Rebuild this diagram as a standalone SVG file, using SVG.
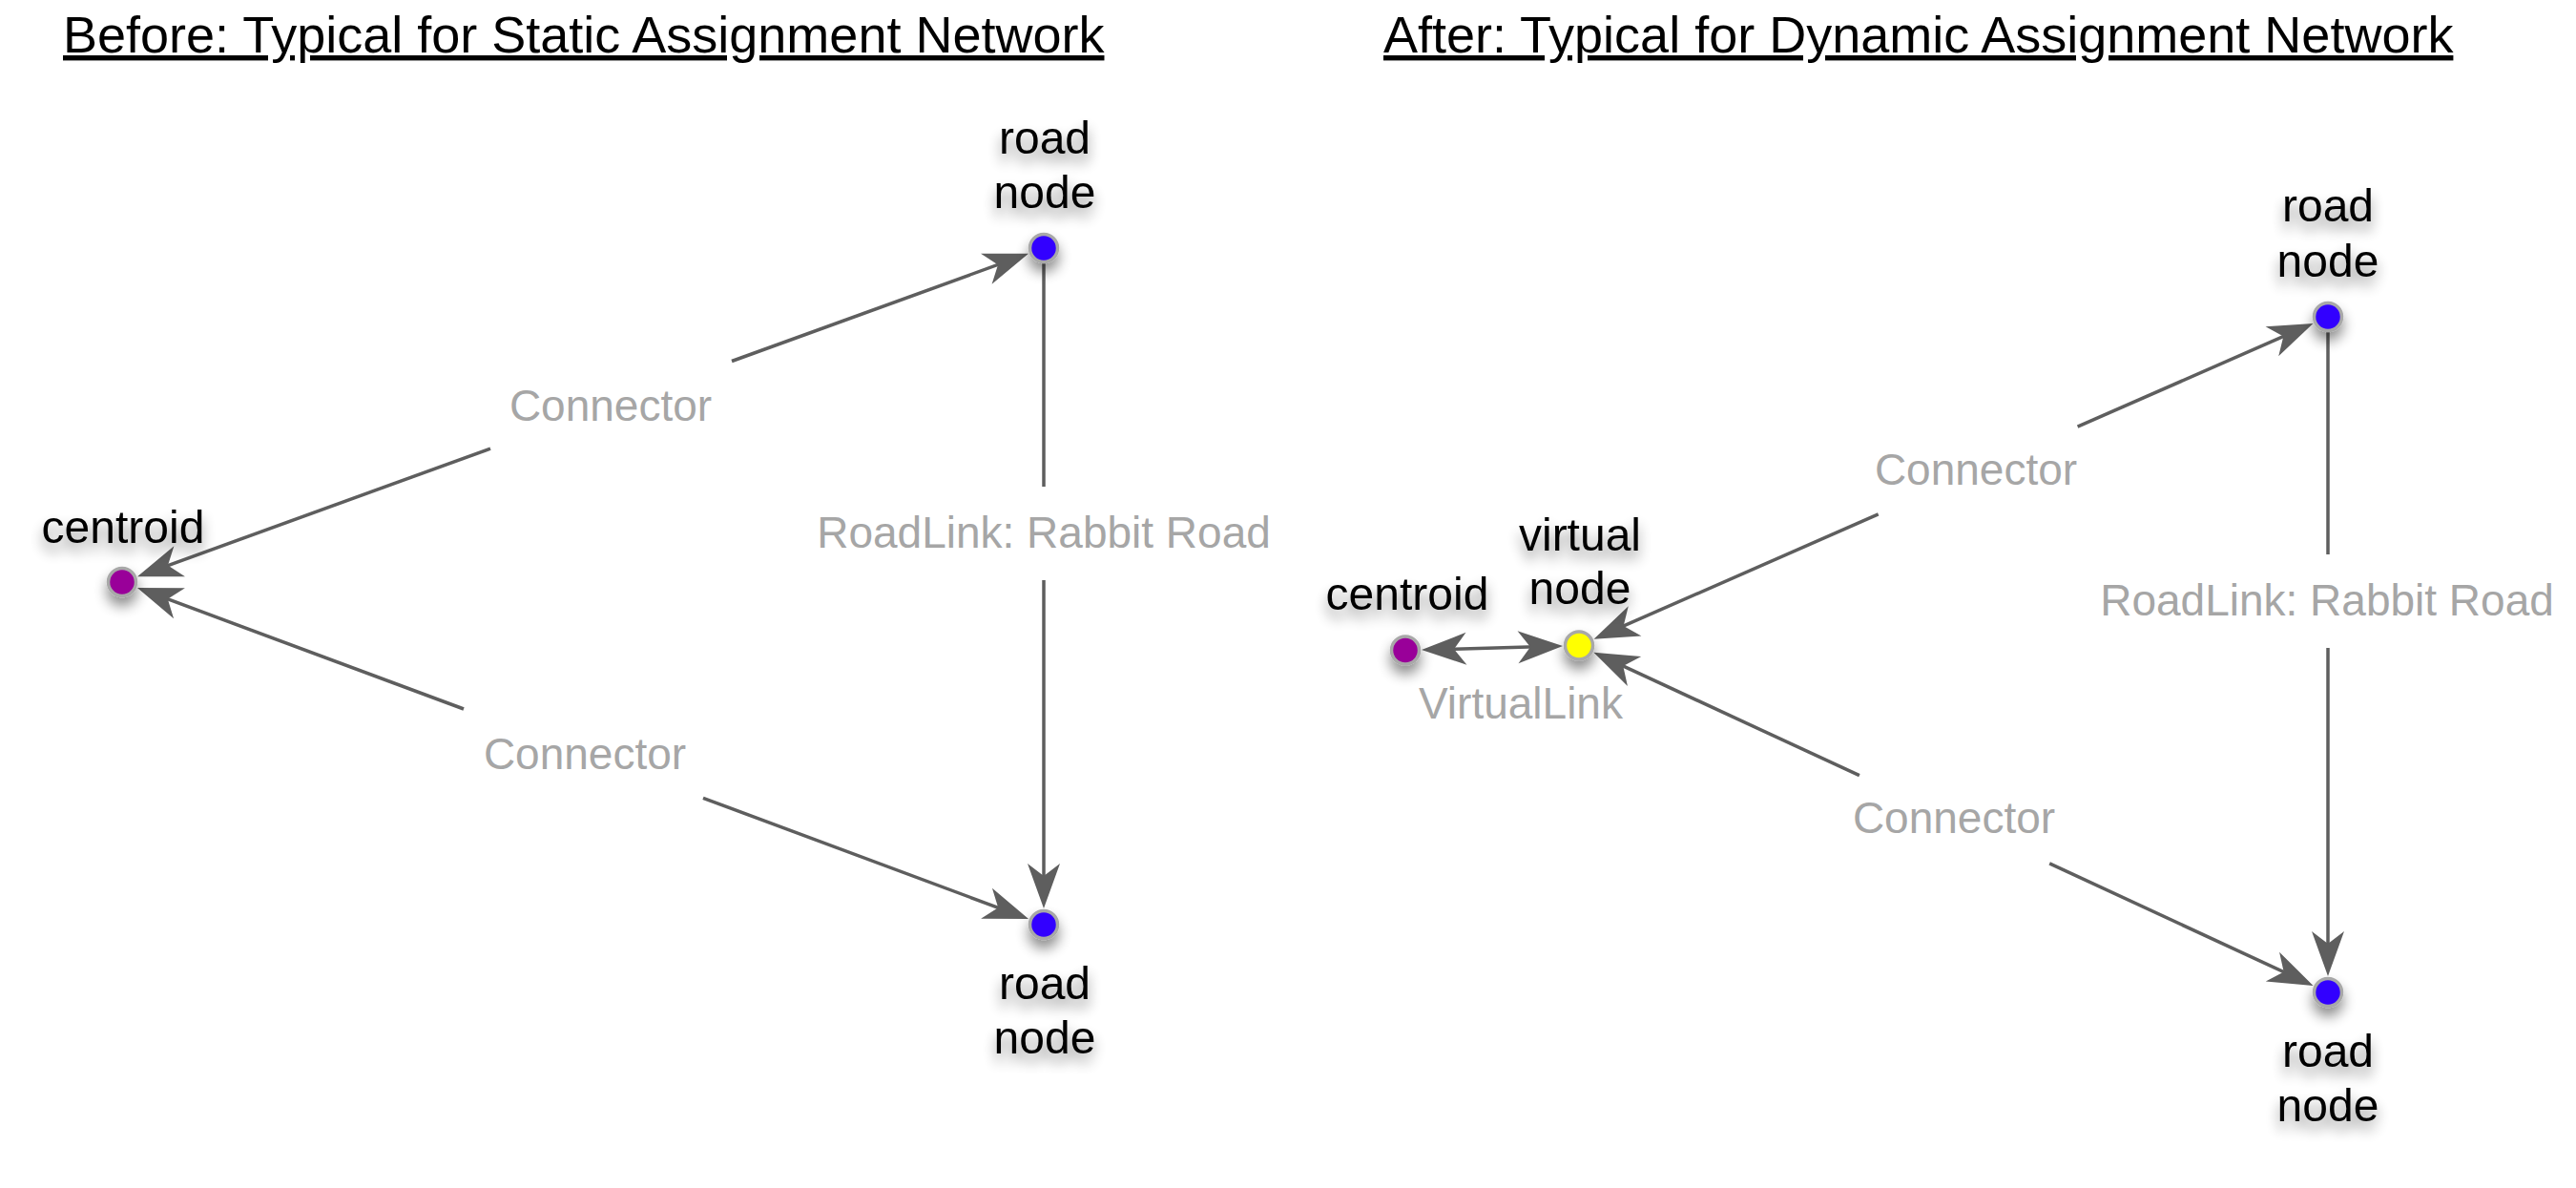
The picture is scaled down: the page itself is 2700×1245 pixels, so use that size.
<svg xmlns="http://www.w3.org/2000/svg" width="2700" height="1245" viewBox="0 0 2700 1245">
  <style>
    .title { font-family: "Liberation Sans", Arial, sans-serif; font-size: 54px; fill: #000; text-decoration: underline; }
    .nlabel { font-family: "Liberation Sans", Arial, sans-serif; font-size: 48px; fill: #000; text-anchor: middle; }
    .elabel { font-family: "Liberation Sans", Arial, sans-serif; font-size: 46px; fill: #a6a6a6; text-anchor: middle; }
    .edge { stroke: #5e5e5e; stroke-width: 3.5; fill: none; }
    .arr { marker-end: url(#ah); }
    .arrs { marker-start: url(#ah); }
    .node { stroke: #a8a8a8; stroke-width: 3.5; }
    .road { fill: #3300ff; }
    .centroid { fill: #990099; }
    .virtual { fill: #ffff00; }
  </style>
  <defs>
    <filter id="sh" x="-60%" y="-60%" width="220%" height="220%">
      <feGaussianBlur in="SourceAlpha" stdDeviation="7"/>
      <feOffset dy="9" result="b"/>
      <feComponentTransfer in="b" result="c"><feFuncA type="linear" slope="0.45"/></feComponentTransfer>
      <feMerge><feMergeNode in="c"/><feMergeNode in="SourceGraphic"/></feMerge>
    </filter>
    <marker id="ah" markerUnits="userSpaceOnUse" markerWidth="60" markerHeight="40" viewBox="-52 -20 60 40" refX="-10" refY="0" orient="auto-start-reverse">
      <path d="M0,0 L-47,-17 L-34,0 L-47,17 Z" fill="#5e5e5e"/>
    </marker>
  </defs>
  <rect width="2700" height="1245" fill="#fff"/>

  <text class="title" x="66" y="55">Before: Typical for Static Assignment Network</text>
  <text class="title" x="1450" y="55">After: Typical for Dynamic Assignment Network</text>

  <g id="connectors">
    <!-- left: top connector -->
    <line class="edge arrs" x1="153.4" y1="600.8" x2="514" y2="470.1"/>
    <line class="edge arr" x1="767" y1="378.5" x2="1068.6" y2="269.2"/>
    <!-- left: bottom connector -->
    <line class="edge arrs" x1="153.3" y1="619.4" x2="486" y2="743.0"/>
    <line class="edge arr" x1="737" y1="836.3" x2="1068.7" y2="959.6"/>
    <!-- left: road link -->
    <line class="edge" x1="1094" y1="274" x2="1094" y2="510"/>
    <line class="edge arr" x1="1094" y1="608" x2="1094" y2="942"/>
    <!-- right: virtual link -->
    <line class="edge arrs arr" x1="1500" y1="680.8" x2="1628" y2="677.3"/>
    <!-- right: top connector -->
    <line class="edge arrs" x1="1679.7" y1="665.7" x2="1968.7" y2="538.9"/>
    <line class="edge arr" x1="2177.6" y1="447.2" x2="2415.3" y2="342.9"/>
    <!-- right: bottom connector -->
    <line class="edge arrs" x1="1679.5" y1="687.9" x2="1948.9" y2="812.7"/>
    <line class="edge arr" x1="2148.2" y1="904.9" x2="2415.5" y2="1028.7"/>
    <!-- right: road link -->
    <line class="edge" x1="2440" y1="346" x2="2440" y2="581"/>
    <line class="edge arr" x1="2440" y1="679" x2="2440" y2="1013"/>

    <text class="elabel" x="640" y="441">Connector</text>
    <text class="elabel" x="613" y="806">Connector</text>
    <text class="elabel" x="1094" y="574">RoadLink: Rabbit Road</text>
    <text class="elabel" x="1594" y="753">VirtualLink</text>
    <text class="elabel" x="2071" y="508">Connector</text>
    <text class="elabel" x="2048" y="873">Connector</text>
    <text class="elabel" x="2439" y="645">RoadLink: Rabbit Road</text>
  </g>

  <g id="left-road-top" filter="url(#sh)">
    <text class="nlabel" x="1095" y="161">road</text>
    <text class="nlabel" x="1095" y="218">node</text>
    <circle class="node road" cx="1094" cy="260" r="14.5"/>
  </g>
  <g id="left-road-bottom" filter="url(#sh)">
    <circle class="node road" cx="1094" cy="969" r="14.5"/>
    <text class="nlabel" x="1095" y="1047">road</text>
    <text class="nlabel" x="1095" y="1104">node</text>
  </g>
  <g id="left-centroid" filter="url(#sh)">
    <text class="nlabel" x="129" y="569">centroid</text>
    <circle class="node centroid" cx="128" cy="610" r="14.5"/>
  </g>

  <g id="right-road-top" filter="url(#sh)">
    <text class="nlabel" x="2440" y="232">road</text>
    <text class="nlabel" x="2440" y="290">node</text>
    <circle class="node road" cx="2440" cy="332" r="14.5"/>
  </g>
  <g id="right-road-bottom" filter="url(#sh)">
    <circle class="node road" cx="2440" cy="1040" r="14.5"/>
    <text class="nlabel" x="2440" y="1118">road</text>
    <text class="nlabel" x="2440" y="1175">node</text>
  </g>
  <g id="right-centroid" filter="url(#sh)">
    <text class="nlabel" x="1475" y="639">centroid</text>
    <circle class="node centroid" cx="1473" cy="681.5" r="14.5"/>
  </g>
  <g id="right-virtual" filter="url(#sh)">
    <text class="nlabel" x="1656" y="577">virtual</text>
    <text class="nlabel" x="1656" y="633">node</text>
    <circle class="node virtual" cx="1655" cy="676.6" r="14.5"/>
  </g>
</svg>
